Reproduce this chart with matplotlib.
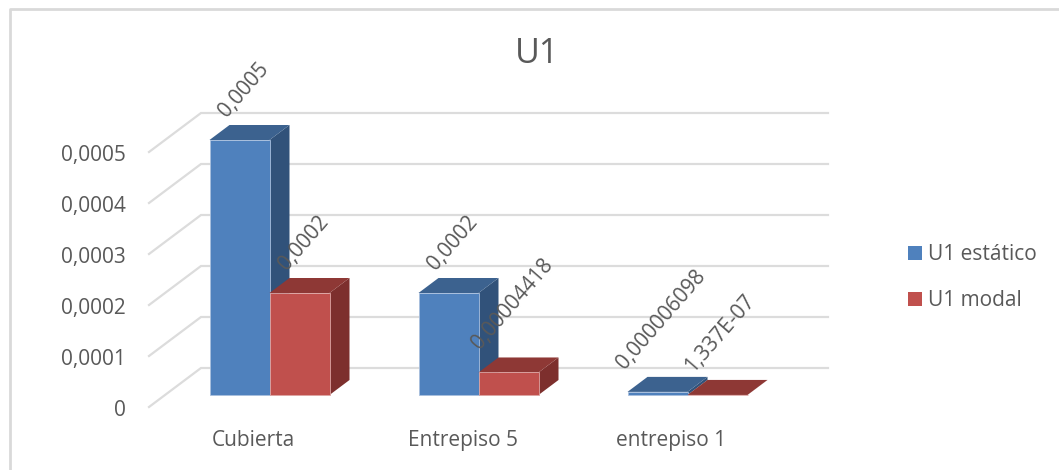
import matplotlib
matplotlib.use("Agg")
import matplotlib.pyplot as plt
from matplotlib.patches import Polygon, Patch, Rectangle
from matplotlib.lines import Line2D
from matplotlib.transforms import ScaledTranslation

categories = ["Cubierta", "Entrepiso 5", "entrepiso 1"]
estatico = [0.0005, 0.0002, 0.000006098]
modal = [0.0002, 0.00004418, 0.0000001337]
estatico_labels = ["0,0005", "0,0002", "0,000006098"]
modal_labels = ["0,0002", "0,00004418", "1,337E-07"]
y_ticks = [0, 0.0001, 0.0002, 0.0003, 0.0004, 0.0005]
y_tick_labels = ["0", "0,0001", "0,0002", "0,0003", "0,0004", "0,0005"]
series_names = ["U1 estático", "U1 modal"]

BLUE, BLUE_TOP, BLUE_SIDE = "#4F81BD", "#3C628F", "#31527A"
RED, RED_TOP, RED_SIDE = "#C0504D", "#8E3835", "#7D2F2D"
GRID, TEXT = "#DCDCDC", "#595959"
FONT = "Open Sans"

W, H = 1059, 470
fig = plt.figure(figsize=(W / 100, H / 100), dpi=100, facecolor="white")
plt.rcParams["font.family"] = FONT

# frame of the chart area: only the top and left edges show
fig.add_artist(Line2D([9.5 / W, 9.5 / W, 1], [0, 1 - 8.5 / H, 1 - 8.5 / H],
                      transform=fig.transFigure, color="#D9D9D9", lw=2))

# axes: the front plane of the bars
ax = fig.add_axes([165 / W, (H - 395) / H, 627 / W, 255 / H])
ax.set_xlim(-0.5, 2.5)
ax.set_ylim(0, 0.0005)
ax.patch.set_alpha(0)
for s in ax.spines.values():
    s.set_visible(False)

px_x = 1 / 209          # data units per pixel
px_y = 0.0001 / 51
bar_w = 60 * px_x
dep_x, dep_y = 20 * px_x, 15 * px_y

# walls and gridlines
wall_x0 = -0.5 + (201 - 165) * px_x
wall_x1 = -0.5 + (828 - 165) * px_x
floor_x = -0.5 + (149 - 165) * px_x
for v in y_ticks:
    yb = v + 27 * px_y
    yf = v - 12 * px_y
    ax.plot([floor_x, wall_x0, wall_x1], [yf, yb, yb], color=GRID, lw=1.6,
            clip_on=False, zorder=1, solid_joinstyle="miter")


def bar3d(x0, h, front, top, side, z):
    x1 = x0 + bar_w
    ax.add_patch(Polygon([(x1, 0), (x1 + dep_x, dep_y), (x1 + dep_x, h + dep_y), (x1, h)],
                         fc=side, ec="none", clip_on=False, zorder=z))
    ax.add_patch(Polygon([(x0, h), (x0 + dep_x, h + dep_y), (x1 + dep_x, h + dep_y), (x1, h)],
                         fc=top, ec="none", clip_on=False, zorder=z))
    ax.add_patch(Rectangle((x0, 0), bar_w, h, fc=front, ec="#A9C0DE" if front == BLUE else "#DDA5A3",
                           lw=0.6, clip_on=False, zorder=z + 0.1))


def value_label(txt, x0, h):
    ax.annotate(txt, (x0, h), xytext=(41 - 4 * len(txt), 22),
                textcoords="offset pixels", rotation=49, rotation_mode="anchor",
                ha="left", va="baseline", fontsize=15, color=TEXT, zorder=5,
                annotation_clip=False)


for i in range(len(categories)):
    bar3d(i - bar_w, estatico[i], BLUE, BLUE_TOP, BLUE_SIDE, 2)
    bar3d(i, modal[i], RED, RED_TOP, RED_SIDE, 3)
    value_label(estatico_labels[i], i - bar_w, estatico[i])
    value_label(modal_labels[i], i, modal[i])

# axis labels
ax.set_yticks(y_ticks, y_tick_labels)
ax.set_xticks(range(len(categories)), categories)
ax.tick_params(axis="both", length=0, labelsize=15, labelcolor=TEXT)
ax.tick_params(axis="y", pad=28)
ax.tick_params(axis="x", pad=25.5)
dpi_tr = fig.dpi_scale_trans
for lab in ax.get_yticklabels():
    lab.set_transform(lab.get_transform() + ScaledTranslation(0, -13 / 100, dpi_tr))
for lab in ax.get_xticklabels():
    lab.set_transform(lab.get_transform() + ScaledTranslation(-16 / 100, 0, dpi_tr))

fig.suptitle("U1", x=537 / W, y=1 - 54 / H, va="center", ha="center", fontsize=24.5, color=TEXT)

handles = [Patch(fc=BLUE, ec="none"), Patch(fc=RED, ec="none")]
fig.legend(handles, series_names, loc="center left", bbox_to_anchor=(889 / W, 1 - 277.5 / H),
           frameon=False, fontsize=15, labelcolor=TEXT, handlelength=0.68, handleheight=0.68,
           handletextpad=0.3, labelspacing=1.2)

fig.savefig("out.png", dpi=100)
